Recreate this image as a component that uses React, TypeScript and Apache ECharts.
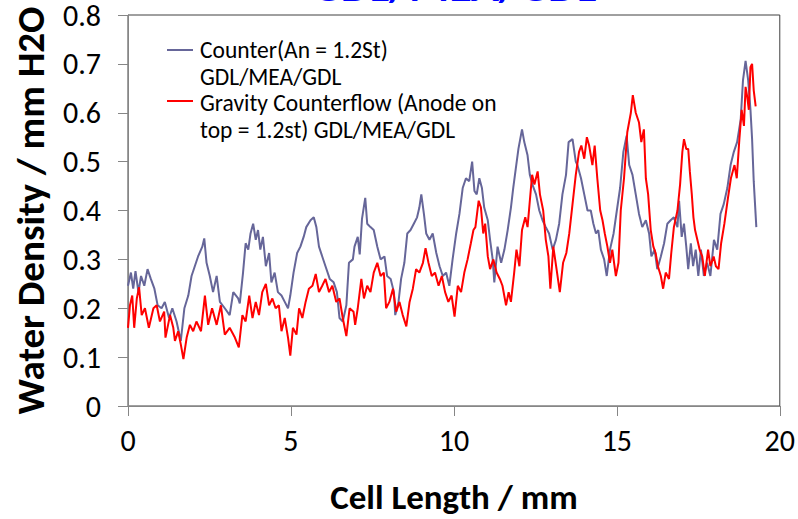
import React, { useEffect, useRef } from "react";
import * as echarts from "echarts";

const counterX = [0.00,0.09,0.16,0.23,0.32,0.40,0.50,0.60,0.70,0.81,0.91,1.03,1.13,1.26,1.36,1.49,1.62,1.73,1.85,1.95,2.05,2.15,2.28,2.34,2.41,2.51,2.61,2.72,2.82,2.97,3.12,3.23,3.38,3.43,3.53,3.61,3.69,3.76,3.84,3.92,3.99,4.06,4.14,4.23,4.33,4.40,4.50,4.60,4.71,4.81,4.91,4.98,5.08,5.19,5.29,5.39,5.47,5.60,5.70,5.78,5.86,5.96,6.06,6.19,6.31,6.41,6.49,6.59,6.70,6.78,6.90,6.95,7.05,7.11,7.18,7.28,7.34,7.44,7.54,7.65,7.75,7.87,7.95,8.06,8.16,8.20,8.30,8.38,8.48,8.57,8.67,8.77,8.87,8.94,9.00,9.08,9.15,9.25,9.35,9.46,9.56,9.66,9.76,9.86,9.96,10.07,10.17,10.27,10.37,10.47,10.56,10.63,10.70,10.78,10.86,10.93,11.04,11.11,11.19,11.24,11.34,11.45,11.55,11.65,11.75,11.82,11.90,11.98,12.09,12.16,12.26,12.33,12.41,12.52,12.62,12.72,12.82,12.92,13.03,13.13,13.23,13.33,13.44,13.52,13.64,13.74,13.79,13.90,14.00,14.10,14.20,14.28,14.36,14.43,14.51,14.61,14.69,14.79,14.90,15.00,15.10,15.20,15.30,15.38,15.48,15.58,15.68,15.78,15.89,15.99,16.06,16.16,16.24,16.35,16.45,16.55,16.65,16.75,16.86,16.91,16.99,17.06,17.13,17.19,17.27,17.34,17.42,17.50,17.58,17.67,17.77,17.87,17.98,18.08,18.18,18.28,18.39,18.49,18.59,18.69,18.80,18.87,18.95,19.03,19.10,19.15,19.20,19.28];
const counterY = [0.246,0.273,0.24,0.276,0.233,0.266,0.246,0.28,0.26,0.24,0.206,0.2,0.213,0.18,0.2,0.173,0.133,0.2,0.226,0.266,0.286,0.306,0.326,0.343,0.293,0.266,0.233,0.266,0.213,0.2,0.186,0.233,0.22,0.21,0.273,0.333,0.32,0.353,0.373,0.34,0.36,0.32,0.346,0.286,0.313,0.253,0.273,0.233,0.226,0.213,0.2,0.226,0.273,0.313,0.326,0.346,0.366,0.38,0.386,0.366,0.326,0.306,0.286,0.26,0.253,0.233,0.18,0.173,0.206,0.293,0.3,0.326,0.346,0.31,0.383,0.426,0.373,0.366,0.36,0.326,0.3,0.306,0.266,0.26,0.233,0.186,0.213,0.26,0.293,0.353,0.36,0.373,0.386,0.406,0.433,0.393,0.353,0.34,0.353,0.313,0.286,0.266,0.273,0.246,0.3,0.353,0.393,0.446,0.466,0.46,0.5,0.44,0.433,0.466,0.446,0.406,0.38,0.34,0.3,0.253,0.326,0.293,0.32,0.36,0.406,0.446,0.486,0.526,0.566,0.54,0.513,0.473,0.453,0.433,0.4,0.38,0.366,0.353,0.32,0.34,0.373,0.433,0.473,0.54,0.546,0.5,0.493,0.466,0.433,0.4,0.4,0.373,0.353,0.36,0.32,0.3,0.266,0.32,0.353,0.4,0.446,0.52,0.553,0.493,0.473,0.433,0.393,0.366,0.38,0.353,0.306,0.32,0.28,0.306,0.333,0.373,0.38,0.386,0.366,0.42,0.346,0.373,0.326,0.28,0.333,0.286,0.32,0.266,0.32,0.266,0.293,0.266,0.34,0.32,0.393,0.413,0.446,0.493,0.52,0.54,0.586,0.666,0.706,0.666,0.606,0.546,0.46,0.366];

const gravityX = [0.00,0.06,0.13,0.19,0.27,0.34,0.42,0.52,0.64,0.78,0.88,0.98,1.11,1.15,1.29,1.39,1.44,1.54,1.62,1.70,1.80,1.90,2.00,2.10,2.24,2.36,2.46,2.58,2.72,2.85,2.97,3.12,3.28,3.40,3.51,3.61,3.72,3.82,3.92,4.02,4.12,4.23,4.33,4.43,4.53,4.63,4.71,4.81,4.91,4.98,5.06,5.17,5.25,5.35,5.45,5.55,5.66,5.76,5.86,5.96,6.06,6.17,6.27,6.39,6.49,6.59,6.70,6.80,6.92,6.97,7.05,7.16,7.24,7.34,7.44,7.54,7.65,7.75,7.85,7.92,8.02,8.13,8.23,8.33,8.43,8.54,8.64,8.74,8.84,8.94,9.05,9.13,9.22,9.32,9.42,9.53,9.63,9.73,9.83,9.93,10.02,10.12,10.22,10.32,10.42,10.52,10.60,10.66,10.76,10.83,10.90,10.96,11.04,11.11,11.21,11.31,11.41,11.49,11.60,11.68,11.75,11.85,11.92,12.01,12.09,12.19,12.26,12.33,12.40,12.47,12.57,12.64,12.74,12.82,12.90,12.96,13.05,13.15,13.25,13.35,13.45,13.54,13.64,13.74,13.84,13.91,14.00,14.08,14.15,14.25,14.32,14.40,14.49,14.56,14.63,14.71,14.79,14.86,14.97,15.05,15.12,15.22,15.32,15.43,15.49,15.58,15.68,15.75,15.83,15.89,15.96,16.04,16.12,16.19,16.26,16.35,16.42,16.50,16.60,16.67,16.75,16.86,16.94,17.01,17.06,17.13,17.19,17.24,17.30,17.35,17.40,17.47,17.54,17.62,17.70,17.80,17.87,17.97,18.04,18.12,18.20,18.30,18.41,18.50,18.61,18.68,18.76,18.83,18.90,18.95,19.00,19.05,19.10,19.15,19.20,19.26];
const gravityY = [0.16,0.206,0.226,0.16,0.22,0.243,0.186,0.2,0.16,0.2,0.206,0.173,0.193,0.14,0.186,0.16,0.133,0.153,0.126,0.096,0.14,0.166,0.153,0.173,0.153,0.226,0.166,0.2,0.166,0.206,0.146,0.16,0.14,0.12,0.186,0.173,0.226,0.18,0.213,0.186,0.233,0.25,0.206,0.22,0.2,0.206,0.153,0.18,0.14,0.103,0.16,0.146,0.2,0.18,0.213,0.24,0.246,0.27,0.233,0.246,0.26,0.233,0.246,0.213,0.22,0.18,0.143,0.2,0.193,0.166,0.2,0.26,0.22,0.246,0.233,0.273,0.293,0.266,0.273,0.2,0.213,0.24,0.193,0.213,0.186,0.163,0.213,0.24,0.28,0.273,0.293,0.323,0.293,0.266,0.273,0.246,0.266,0.233,0.213,0.226,0.183,0.246,0.233,0.273,0.3,0.333,0.36,0.366,0.42,0.406,0.353,0.373,0.306,0.28,0.3,0.273,0.26,0.246,0.206,0.233,0.213,0.273,0.32,0.286,0.36,0.386,0.366,0.42,0.473,0.453,0.48,0.433,0.4,0.34,0.306,0.24,0.326,0.28,0.233,0.293,0.313,0.353,0.413,0.473,0.52,0.533,0.506,0.55,0.533,0.493,0.533,0.466,0.4,0.38,0.353,0.326,0.293,0.32,0.266,0.293,0.4,0.466,0.56,0.6,0.636,0.6,0.58,0.54,0.566,0.466,0.433,0.36,0.326,0.313,0.286,0.266,0.24,0.273,0.26,0.313,0.366,0.4,0.453,0.52,0.546,0.526,0.526,0.48,0.433,0.386,0.36,0.34,0.32,0.306,0.266,0.32,0.286,0.306,0.286,0.28,0.333,0.373,0.426,0.466,0.493,0.466,0.546,0.606,0.573,0.653,0.633,0.606,0.693,0.7,0.646,0.613];

const legendLines = [
  ["Counter(An = 1.2St)", "GDL/MEA/GDL"],
  ["Gravity Counterflow (Anode on", "top = 1.2st) GDL/MEA/GDL"],
];
const seriesNames = ["Counter(An = 1.2St) GDL/MEA/GDL", "Gravity Counterflow (Anode on top = 1.2st) GDL/MEA/GDL"];
const titleText = "GDL/MEA/GDL";
const xTitle = "Cell Length / mm";
const yTitle = "Water Density / mm H2O";

const FONT = "Carlito, Lato, sans-serif";
const BLUE = "#666699";
const RED = "#FF0000";

export default function App() {
  const ref = useRef<HTMLDivElement>(null);
  useEffect(() => {
    if (!ref.current) return;
    const chart = echarts.init(ref.current, null, { renderer: "svg" });
    const zip = (xs: number[], ys: number[]) => xs.map((x, i) => [x, ys[i]]);
    const legendText = (t: string, y: number) => ({
      type: "text",
      x: 200,
      y,
      style: { text: t, font: `23.5px ${FONT}`, fill: "#000", verticalAlign: "middle" },
    });
    chart.setOption({
      animation: false,
      backgroundColor: "#ffffff",
      grid: {
        left: 128,
        top: 13,
        width: 653,
        height: 400,
        show: true,
        borderColor: "#404040",
        borderWidth: 1,
        backgroundColor: "transparent",
      },
      xAxis: {
        type: "value",
        min: 0,
        max: 20,
        interval: 5,
        name: xTitle,
        nameLocation: "middle",
        nameGap: 73,
        nameTextStyle: { fontFamily: FONT, fontWeight: "bold", fontSize: 35, color: "#000" },
        axisLine: { show: true, onZero: false, lineStyle: { color: "#868686", width: 1 } },
        axisTick: { show: true, inside: false, length: 10, lineStyle: { color: "#868686" } },
        axisLabel: { fontFamily: FONT, fontSize: 30, color: "#000", margin: 19 },
        splitLine: { show: false },
      },
      yAxis: {
        type: "value",
        min: 0,
        max: 0.8,
        interval: 0.1,
        name: yTitle,
        nameLocation: "middle",
        nameGap: 78,
        nameTextStyle: { fontFamily: FONT, fontWeight: "bold", fontSize: 39, color: "#000" },
        axisLine: { show: true, onZero: false, lineStyle: { color: "#868686", width: 1 } },
        axisTick: { show: true, inside: false, length: 10, lineStyle: { color: "#868686" } },
        axisLabel: {
          fontFamily: FONT,
          fontSize: 30,
          color: "#000",
          margin: 27,
          formatter: (v: number) => (v === 0 ? "0" : v.toFixed(1)),
        },
        splitLine: { show: false },
      },
      series: [
        {
          name: seriesNames[0],
          type: "line",
          data: zip(counterX, counterY),
          showSymbol: false,
          lineStyle: { color: BLUE, width: 2 },
          itemStyle: { color: BLUE },
        },
        {
          name: seriesNames[1],
          type: "line",
          data: zip(gravityX, gravityY),
          showSymbol: false,
          lineStyle: { color: RED, width: 2 },
          itemStyle: { color: RED },
        },
      ],
      graphic: [
        {
          type: "text",
          x: 454,
          y: -15,
          style: {
            text: titleText,
            font: `bold 46px ${FONT}`,
            fill: "#0000FF",
            align: "center",
            verticalAlign: "middle",
          },
        },
        { type: "line", shape: { x1: 167, y1: 50, x2: 193, y2: 50 }, style: { stroke: BLUE, lineWidth: 2 } },
        { type: "line", shape: { x1: 167, y1: 101, x2: 193, y2: 101 }, style: { stroke: RED, lineWidth: 2 } },
        legendText(legendLines[0][0], 50),
        legendText(legendLines[0][1], 77),
        legendText(legendLines[1][0], 103),
        legendText(legendLines[1][1], 130),
      ],
    });
    return () => chart.dispose();
  }, []);
  return <div ref={ref} style={{ position: "fixed", left: 0, top: 0, width: 798, height: 519 }} />;
}
